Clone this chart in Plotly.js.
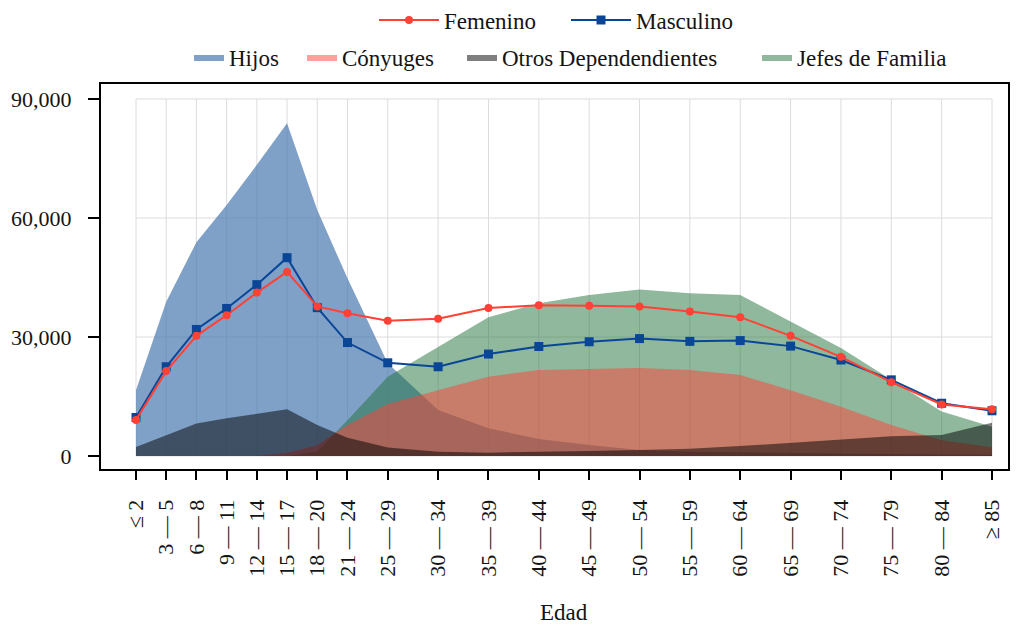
<!DOCTYPE html>
<html>
<head>
<meta charset="utf-8">
<script src="https://cdn.plot.ly/plotly-3.0.1.min.js"></script>
<style>html,body{margin:0;padding:0;background:#fff;}#chart{width:1018px;height:628px;}</style>
</head>
<body>
<div id="chart"></div>
<script>
// Age groups (lower bound of each group, used as x position)
const edadInicio = [0, 3, 6, 9, 12, 15, 18, 21, 25, 30, 35, 40, 45, 50, 55, 60, 65, 70, 75, 80, 85];
const etiquetas = ["≤ 2", "3 — 5", "6 — 8", "9 — 11", "12 — 14", "15 — 17", "18 — 20", "21 — 24",
  "25 — 29", "30 — 34", "35 — 39", "40 — 44", "45 — 49", "50 — 54", "55 — 59", "60 — 64",
  "65 — 69", "70 — 74", "75 — 79", "80 — 84", "≥ 85"];

const femenino = [9100, 21400, 30300, 35500, 41200, 46400, 37700, 36000, 34100, 34600, 37300,
  38000, 37900, 37700, 36400, 35000, 30300, 25000, 18600, 13000, 11800];
const masculino = [9700, 22500, 31900, 37200, 43200, 50000, 37400, 28600, 23500, 22500, 25700,
  27600, 28800, 29600, 28900, 29100, 27700, 24200, 19200, 13300, 11400];

const hijos = [16600, 38900, 53900, 63300, 73400, 83900, 62000, 44800, 23400, 11600, 7000,
  4300, 2800, 1500, 1100, 900, 700, 600, 500, 400, 300];
const conyuges = [0, 0, 0, 0, 0, 800, 2700, 7800, 13100, 16600, 20000, 21700, 22000, 22200,
  21700, 20400, 16600, 12400, 7800, 4000, 2200];
const otros = [2300, 5300, 8200, 9500, 10700, 11800, 7800, 4600, 2150, 1100, 850, 1000, 1250,
  1500, 1850, 2500, 3350, 4200, 5000, 5300, 8400];
const jefes = [0, 0, 0, 0, 0, 0, 1200, 9000, 20000, 27600, 35000, 38500, 40600, 42000, 41000,
  40600, 33900, 27200, 19200, 11200, 7400];

const yTicks = [0, 30000, 60000, 90000];

const FONT = "Liberation Serif";
const TXT = '#141414';

function area(name, y, color, lg) {
  return {x: edadInicio, y: y, name: name, type: 'scatter', mode: 'lines', fill: 'tozeroy',
    fillcolor: color, line: {width: 0, color: color}, legend: lg, hoverinfo: 'skip'};
}

const traces = [
  area('Hijos', hijos, 'rgba(72,121,176,0.7)', 'legend3'),
  area('Jefes de Familia', jefes, 'rgba(31,113,57,0.5)', 'legend6'),
  area('Cónyuges', conyuges, 'rgba(255,65,54,0.5)', 'legend4'),
  area('Otros Dependendientes', otros, 'rgba(0,0,0,0.5)', 'legend5'),
  {x: edadInicio, y: masculino, name: 'Masculino', type: 'scatter', mode: 'lines+markers',
    line: {color: '#0A4697', width: 2}, marker: {symbol: 'square', size: 9, color: '#0A4697'},
    legend: 'legend2'},
  {x: edadInicio, y: femenino, name: 'Femenino', type: 'scatter', mode: 'lines+markers',
    line: {color: '#FF4136', width: 2}, marker: {symbol: 'circle', size: 8, color: '#FF4136'},
    legend: 'legend'}
];

// gridlines restricted to data box
const shapes = [];
yTicks.forEach(v => shapes.push({type: 'line', xref: 'x', yref: 'y', x0: 0, x1: 85, y0: v, y1: v,
  line: {color: '#dcdcdc', width: 1}, layer: 'below'}));
edadInicio.forEach(v => shapes.push({type: 'line', xref: 'x', yref: 'y', x0: v, x1: v, y0: 0, y1: 90000,
  line: {color: '#dcdcdc', width: 1}, layer: 'below'}));

function lg(px, py, iw) {
  return {xref: 'container', yref: 'container', x: px / 1018, y: 1 - py / 628, xanchor: 'left',
    yanchor: 'middle', orientation: 'h', itemwidth: iw, bgcolor: 'rgba(0,0,0,0)',
    font: {family: FONT, size: 23, color: TXT}};
}

const layout = {
  width: 1018, height: 628,
  margin: {l: 101, r: 10, t: 84, b: 159},
  paper_bgcolor: '#fff', plot_bgcolor: '#fff',
  font: {family: FONT, size: 22, color: TXT},
  showlegend: true,
  xaxis: {
    range: [-3.4755, 86.589], tickvals: edadInicio, ticktext: etiquetas, tickangle: -90,
    showgrid: false, zeroline: false, showline: true, linecolor: '#000', linewidth: 2, mirror: true,
    ticks: 'outside', ticklen: 9, tickwidth: 2, tickcolor: '#000', ticklabelstandoff: 11,
    tickfont: {family: FONT, size: 22, color: TXT}
  },
  yaxis: {
    range: [-3277, 93781], tickvals: yTicks, tickformat: ',d',
    showgrid: false, zeroline: false, showline: true, linecolor: '#000', linewidth: 2, mirror: true,
    ticks: 'outside', ticklen: 11, tickwidth: 2, tickcolor: '#000', ticklabelstandoff: 12,
    tickfont: {family: FONT, size: 22, color: TXT}
  },
  legend: lg(374, 20, 60),
  legend2: lg(566, 20, 60),
  legend3: lg(189, 57, 30),
  legend4: lg(302, 57, 30),
  legend5: lg(462, 57, 30),
  legend6: lg(757, 57, 30),
  shapes: shapes,
  annotations: [{text: 'Edad', xref: 'x', yref: 'paper', x: 42.5, y: -0.374, xanchor: 'center',
    yanchor: 'middle', showarrow: false, font: {family: FONT, size: 23, color: TXT}}]
};

Plotly.newPlot('chart', traces, layout, {displayModeBar: false, staticPlot: true});
</script>
</body>
</html>
